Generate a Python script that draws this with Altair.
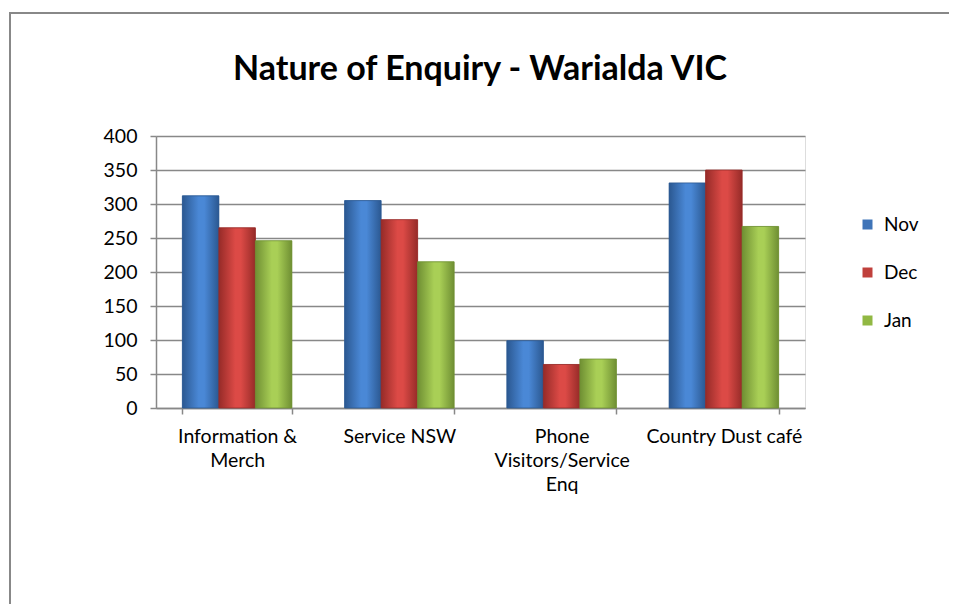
import altair as alt
import pandas as pd

categories = ["Information & Merch", "Service NSW", "Phone Visitors/Service Enq", "Country Dust café"]
months = ["Nov", "Dec", "Jan"]
nov = [312, 305, 99, 331]
dec = [265, 277, 64, 350]
jan = [246, 215, 72, 267]
title_text = "Nature of Enquiry - Warialda VIC"

solid_colors = ["#3F74B8", "#C0403C", "#91B843"]
edge_colors = ["#2B5891", "#962B28", "#6F8F33"]
mid_colors = ["#4A88D6", "#DC4A46", "#A9CF56"]

rows = []
for m, vals in zip(months, [nov, dec, jan]):
    for c, v in zip(categories, vals):
        rows.append({"category": c, "month": m, "value": v})
df = pd.DataFrame(rows)

FONT = "Lato"
GRAY = "#888888"

label_expr = (
    "datum.label == 'Information & Merch' ? ['Information &', 'Merch'] : "
    "datum.label == 'Phone Visitors/Service Enq' ? ['Phone', 'Visitors/Service', 'Enq'] : datum.label"
)

x_enc = alt.X(
    "category:N", sort=categories, title=None,
    scale=alt.Scale(domain=categories, paddingInner=0.325, paddingOuter=0.1625),
    axis=alt.Axis(
        labelExpr=label_expr, labelAngle=0, labelFontSize=19.5, labelFont=FONT,
        labelColor="#000000", labelLineHeight=24, labelPadding=13,
        tickBand="extent", tickSize=6, tickColor=GRAY, tickWidth=1.5,
        domainColor=GRAY, domainWidth=1.5, grid=False,
    ),
)
xoff_enc = alt.XOffset("month:N", sort=months,
                       scale=alt.Scale(domain=months, paddingInner=0, paddingOuter=0))
y_enc = alt.Y(
    "value:Q", title=None,
    scale=alt.Scale(domain=[0, 400], nice=False),
    axis=alt.Axis(
        values=[0, 50, 100, 150, 200, 250, 300, 350, 400],
        labelFontSize=19.5, labelFont=FONT, labelColor="#000000", labelPadding=13,
        tickSize=6, tickColor=GRAY, tickWidth=1.5,
        domainColor=GRAY, domainWidth=1.5,
        grid=True, gridColor=GRAY, gridWidth=1.5,
    ),
)

base = alt.Chart(df).encode(x=x_enc, xOffset=xoff_enc, y=y_enc)

solid = base.mark_bar().encode(
    color=alt.Color(
        "month:N", sort=months,
        scale=alt.Scale(domain=months, range=solid_colors),
        legend=alt.Legend(
            title=None, orient="none", legendX=702, legendY=79,
            labelFontSize=19, labelFont=FONT, labelColor="#000000",
            symbolType="square", symbolSize=100, symbolStrokeWidth=0,
            rowPadding=28, labelOffset=7,
        ),
    )
)

layers = []
for m, e, c in zip(months, edge_colors, mid_colors):
    grad = alt.LinearGradient(
        gradient="linear",
        stops=[
            alt.GradientStop(color=e, offset=0),
            alt.GradientStop(color=c, offset=0.45),
            alt.GradientStop(color=c, offset=0.6),
            alt.GradientStop(color=e, offset=1),
        ],
        x1=0, x2=1, y1=0, y2=0,
    )
    layers.append(
        base.mark_bar(fill=grad, stroke=e, strokeWidth=0.8)
        .transform_filter(alt.datum.month == m)
    )

single = alt.Data(values=[{"t": title_text}])

border = alt.Chart(single).mark_rect(
    fill="transparent", stroke=GRAY, strokeWidth=2
).encode(
    x=alt.value(-146), x2=alt.value(1200),
    y=alt.value(-123), y2=alt.value(900),
)

title = alt.Chart(single).mark_text(
    font=FONT, fontSize=34, fontWeight="bold", color="#000000",
    align="center", baseline="alphabetic",
).encode(
    text="t:N", x=alt.value(324), y=alt.value(-56),
)

chart = alt.layer(border, solid, *layers, title).properties(
    width=649,
    height=272,
    autosize=alt.AutoSizeParams(type="none"),
    padding={"left": 148, "top": 128, "right": 144, "bottom": 196},
).configure_view(stroke=None).configure(background="white")

chart.save("out.html", embed_options={"renderer": "svg", "actions": False})
